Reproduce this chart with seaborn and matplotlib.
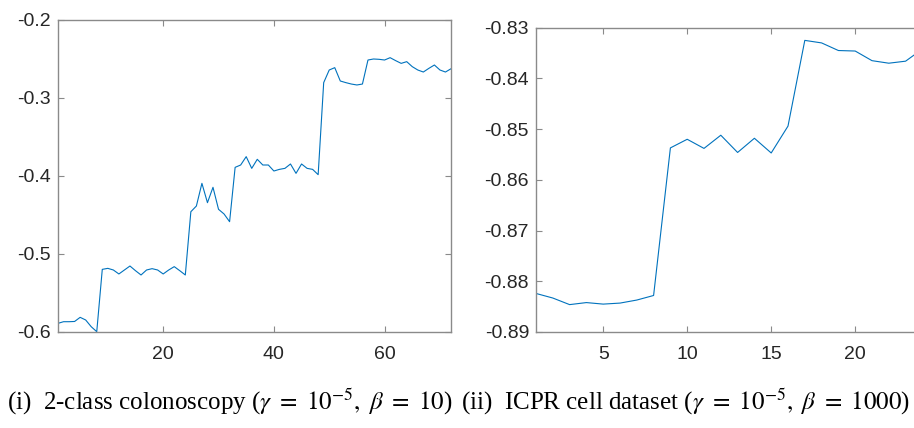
import numpy as np
import pandas as pd
import matplotlib
matplotlib.use("Agg")
import matplotlib.pyplot as plt
import seaborn as sns

# ---- data ----
colon_iter = list(range(1, 73))
colon_vals = [
    -0.5889, -0.5868, -0.5868, -0.5865, -0.5812, -0.5846, -0.5932, -0.5996,
    -0.5197, -0.5184, -0.5205, -0.5256, -0.5205, -0.5154, -0.5214, -0.5269,
    -0.5205, -0.5188, -0.5205, -0.5256, -0.5205, -0.5162, -0.5214, -0.5269,
    -0.4458, -0.4385, -0.4094, -0.4342, -0.4145, -0.4427, -0.4487, -0.4586,
    -0.3889, -0.3859, -0.3752, -0.3902, -0.3786, -0.3859, -0.3859, -0.3936,
    -0.3915, -0.3902, -0.3846, -0.3966, -0.3846, -0.3902, -0.3915, -0.3983,
    -0.2803, -0.2641, -0.2611, -0.2782, -0.2803, -0.2821, -0.2833, -0.2821,
    -0.2513, -0.2500, -0.2504, -0.2513, -0.2483, -0.2521, -0.2556, -0.2534,
    -0.2598, -0.2641, -0.2667, -0.2620, -0.2577, -0.2641, -0.2667, -0.2625,
]
icpr_iter = list(range(1, 25))
icpr_vals = [
    -0.8824, -0.8833, -0.8846, -0.8842, -0.8845, -0.8843, -0.8837, -0.8828,
    -0.8537, -0.8520, -0.8538, -0.8512, -0.8546, -0.8518, -0.8547, -0.8494,
    -0.8325, -0.8330, -0.8345, -0.8346, -0.8365, -0.8370, -0.8366, -0.8342,
]
left_yticks = [-0.6, -0.5, -0.4, -0.3, -0.2]
left_yticklabels = ["-0.6", "-0.5", "-0.4", "-0.3", "-0.2"]
left_xticks = [20, 40, 60]
right_yticks = [-0.89, -0.88, -0.87, -0.86, -0.85, -0.84, -0.83]
right_yticklabels = ["-0.89", "-0.88", "-0.87", "-0.86", "-0.85", "-0.84", "-0.83"]
right_xticks = [5, 10, 15, 20]
captions = [r"(i)  2-class colonoscopy ($\gamma\ =\ 10^{-5},\ \beta\ =\ 10$)",
            r"(ii)  ICPR cell dataset ($\gamma\ =\ 10^{-5},\ \beta\ =\ 1000$)"]

sns.set_theme(style="white")
plt.rcParams["font.family"] = ["Liberation Sans", "DejaVu Sans"]
plt.rcParams["axes.unicode_minus"] = False
plt.rcParams["mathtext.fontset"] = "stix"

W, H = 914, 428
fig = plt.figure(figsize=(W / 100, H / 100), dpi=100)

def px_axes(l, t, r, b):
    return fig.add_axes([l / W, 1 - b / H, (r - l) / W, (b - t) / H])

ax1 = px_axes(58, 20, 451, 332)
ax2 = px_axes(536, 27.7, 922.4, 332)

line_color = "#0072BD"
spine_color = "#8a8a8a"
text_color = "#262626"

df1 = pd.DataFrame({"iter": colon_iter, "val": colon_vals})
df2 = pd.DataFrame({"iter": icpr_iter, "val": icpr_vals})
sns.lineplot(data=df1, x="iter", y="val", ax=ax1, color=line_color, linewidth=0.8)
sns.lineplot(data=df2, x="iter", y="val", ax=ax2, color=line_color, linewidth=0.8)

ax1.set_xlim(1, 72)
ax1.set_ylim(-0.6, -0.2)
ax1.set_yticks(left_yticks)
ax1.set_yticklabels(left_yticklabels)
ax1.set_xticks(left_xticks)
ax1.set_xticklabels([str(v) for v in left_xticks])

ax2.set_xlim(1, 24)
ax2.set_ylim(-0.89, -0.83)
ax2.set_yticks(right_yticks)
ax2.set_yticklabels(right_yticklabels)
ax2.set_xticks(right_xticks)
ax2.set_xticklabels([str(v) for v in right_xticks])

for ax in (ax1, ax2):
    ax.set_xlabel("")
    ax.set_ylabel("")
    for s in ax.spines.values():
        s.set_visible(True)
        s.set_color(spine_color)
        s.set_linewidth(1.0)
    ax.tick_params(axis="both", which="both", direction="in", length=4, width=0.8,
                   color=spine_color, labelcolor=text_color, labelsize=14,
                   top=True, right=True, bottom=True, left=True)
    ax.tick_params(axis="x", pad=10)
    ax.tick_params(axis="y", pad=5)

fig.text(230 / W, 1 - 410 / H, captions[0], ha="center", va="baseline",
         fontsize=18, family=["Liberation Serif", "DejaVu Serif"], color="black")
fig.text(461 / W, 1 - 410 / H, captions[1], ha="left", va="baseline",
         fontsize=18, family=["Liberation Serif", "DejaVu Serif"], color="black")

fig.savefig("out.png", dpi=100)
